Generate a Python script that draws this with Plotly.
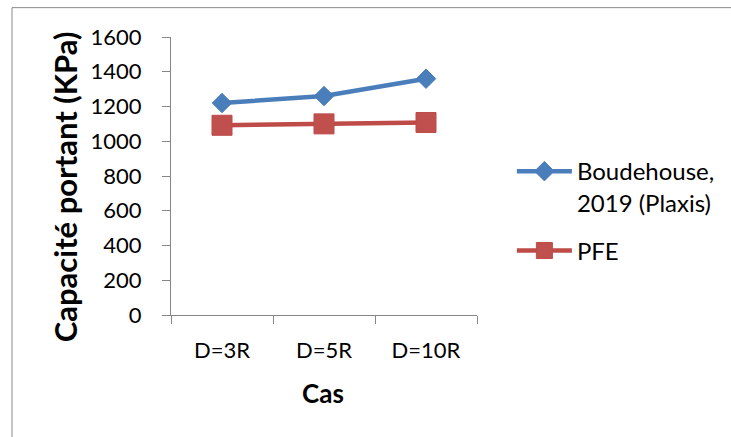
import plotly.graph_objects as go

categories = ["D=3R", "D=5R", "D=10R"]
boudehouse = [1220, 1260, 1360]
pfe = [1092, 1100, 1108]
series_names = ["Boudehouse,<br>2019 (Plaxis)", "PFE"]
y_ticks = [0, 200, 400, 600, 800, 1000, 1200, 1400, 1600]

FONT = "Lato"
AX = "#868686"

fig = go.Figure()
fig.add_trace(go.Scatter(
    x=categories, y=boudehouse, name=series_names[0], mode="lines+markers",
    legendgroup="a",
    line=dict(color="#4A7EBB", width=4.5),
    marker=dict(symbol="diamond", size=15, color="#4A7EBB", line=dict(color="#4A7EBB", width=1)),
))
fig.add_trace(go.Scatter(
    x=categories, y=pfe, name=series_names[1], mode="lines+markers",
    legendgroup="b",
    line=dict(color="#BE4B48", width=4.5),
    marker=dict(symbol="square", size=20, color="#C0504D", line=dict(color="#BE4B48", width=1)),
))

fig.update_layout(
    width=731, height=437,
    margin=dict(l=171, r=254, t=37, b=122, autoexpand=False),
    paper_bgcolor="white", plot_bgcolor="white",
    font=dict(family=FONT, size=22, color="black"),
    showlegend=True,
    legend=dict(x=1.114, y=0.597, xanchor="left", yanchor="top",
                itemwidth=55, valign="top", traceorder="grouped", tracegroupgap=14,
                font=dict(family=FONT, size=24, color="black"),
                bgcolor="rgba(0,0,0,0)"),
    xaxis=dict(
        type="category", range=[-0.5, 2.5], showgrid=False, zeroline=False,
        showline=True, linecolor=AX, linewidth=1.3,
        ticks="outside", ticklen=8, tickcolor=AX, tickwidth=1.3,
        tickson="boundaries", ticklabelstandoff=15,
        tickfont=dict(family=FONT, size=22),
        fixedrange=True,
    ),
    yaxis=dict(
        range=[0, 1600], tickvals=y_ticks, showgrid=False, zeroline=False,
        showline=True, linecolor=AX, linewidth=1.3,
        ticks="outside", ticklen=8, tickcolor=AX, tickwidth=1.3,
        ticklabelstandoff=16,
        tickfont=dict(family=FONT, size=22),
        fixedrange=True,
    ),
    annotations=[
        dict(text="<b>Capacité portant (KPa)</b>", xref="paper", yref="paper",
             x=-0.346, y=0.46, xanchor="center", yanchor="middle", textangle=-90,
             showarrow=False, font=dict(family=FONT, size=31, color="black")),
        dict(text="<b>Cas</b>", xref="paper", yref="paper",
             x=0.497, y=-0.279, xanchor="center", yanchor="middle",
             showarrow=False, font=dict(family=FONT, size=26, color="black")),
    ],
)

# outer chart border (left and top visible)
fig.add_shape(type="line", xref="paper", yref="paper", x0=-0.5196, x1=-0.5196, y0=-1, y1=1.1056,
              line=dict(color="#8a8a8a", width=1))
fig.add_shape(type="line", xref="paper", yref="paper", x0=-0.5196, x1=2, y0=1.1056, y1=1.1056,
              line=dict(color="#8a8a8a", width=1))

fig.write_html("out.html", config={"displayModeBar": False},
               post_script="document.body.style.margin='0px';")
